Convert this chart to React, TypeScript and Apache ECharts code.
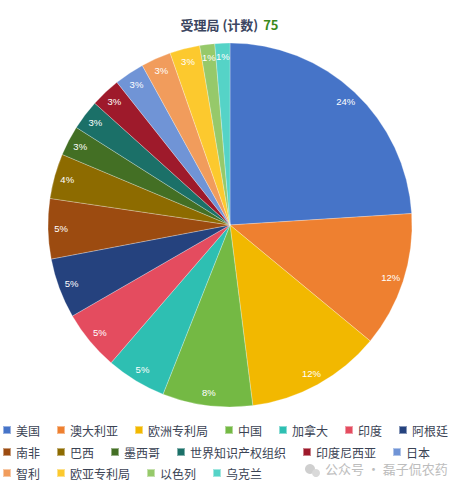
import React, { useEffect, useRef } from "react";
import * as echarts from "echarts";

const categories = [
  "美国", "澳大利亚", "欧洲专利局", "中国", "加拿大", "印度", "阿根廷",
  "南非", "巴西", "墨西哥", "世界知识产权组织", "印度尼西亚", "日本",
  "智利", "欧亚专利局", "以色列", "乌克兰",
];
const counts = [18, 9, 9, 6, 4, 4, 4, 4, 3, 2, 2, 2, 2, 2, 2, 1, 1];
const colors = [
  "#4674c8", "#ee8030", "#f2b800", "#74b944", "#2ebfb2", "#e44c5f", "#25427e",
  "#9c4b10", "#8d6b00", "#436f24", "#1b7068", "#9e1a2b", "#7094d6",
  "#f19c5c", "#fcc92e", "#96c96a", "#55d3c7",
];
const legendRows = [
  ["美国", "澳大利亚", "欧洲专利局", "中国", "加拿大", "印度", "阿根廷"],
  ["南非", "巴西", "墨西哥", "世界知识产权组织", "印度尼西亚", "日本"],
  ["智利", "欧亚专利局", "以色列", "乌克兰"],
];
const titleText = "受理局 (计数)";
const total = counts.reduce((a, b) => a + b, 0);

export default function App() {
  const ref = useRef<HTMLDivElement>(null);
  useEffect(() => {
    if (!ref.current) return;
    const chart = echarts.init(ref.current, undefined, { renderer: "svg" });
    const data = categories.map((name, i) => ({
      name,
      value: counts[i],
      itemStyle: { color: colors[i] },
    }));
    const legendTops = [424, 446, 467];
    chart.setOption({
      animation: false,
      title: {
        text: `{a|${titleText}} {b|${total}}`,
        left: "center",
        top: 10,
        textStyle: {
          rich: {
            a: { fontSize: 13, fontWeight: "bold", color: "#3b4560", fontFamily: "Noto Sans CJK SC" },
            b: { fontSize: 13, fontWeight: "bold", color: "#3a8a1c", fontFamily: "Noto Sans CJK SC" },
          },
        },
      },
      legend: legendRows.map((row, i) => ({
        data: row,
        left: 2,
        top: legendTops[i],
        width: 457,
        padding: 0,
        itemGap: 16,
        itemWidth: 8,
        itemHeight: 8,
        icon: "rect",
        orient: "horizontal",
        textStyle: { fontSize: 12, color: "#3b4354", fontFamily: "Noto Sans CJK SC" },
      })),
      graphic: [
        { type: "circle", shape: { cx: 310, cy: 469, r: 5 }, style: { fill: "#cfcfcf" } },
        { type: "circle", shape: { cx: 316, cy: 473, r: 4 }, style: { fill: "#d9d9d9" } },
        {
          type: "text",
          x: 325,
          y: 462,
          style: { text: "公众号 · 磊子侃农药", fill: "#bdbdbd", fontSize: 13, fontFamily: "Noto Sans CJK SC" },
        },
      ],
      series: [
        {
          type: "pie",
          center: [230, 225],
          radius: [0, 182],
          startAngle: 90,
          clockwise: true,
          data,
          label: { show: false },
          labelLine: { show: false },
          itemStyle: { borderColor: "rgba(255,255,255,0.45)", borderWidth: 0.6 },
          emphasis: { disabled: true },
        },
        {
          type: "pie",
          center: [230, 225],
          radius: [150, 182],
          startAngle: 90,
          clockwise: true,
          silent: true,
          avoidLabelOverlap: false,
          labelLayout: { hideOverlap: false },
          data: categories.map((name, i) => ({ name, value: counts[i] })),
          itemStyle: { color: "rgba(0,0,0,0)" },
          label: {
            show: true,
            position: "inside",
            color: "#ffffff",
            fontSize: 9.5,
            fontFamily: "Liberation Sans",
            formatter: (p: any) => Math.round((p.value / total) * 100) + "%",
          },
          labelLine: { show: false },
          emphasis: { disabled: true },
        },
      ],
    });
    return () => chart.dispose();
  }, []);
  return (
    <div
      ref={ref}
      style={{ position: "absolute", left: 0, top: 0, width: 459, height: 488 }}
    />
  );
}
